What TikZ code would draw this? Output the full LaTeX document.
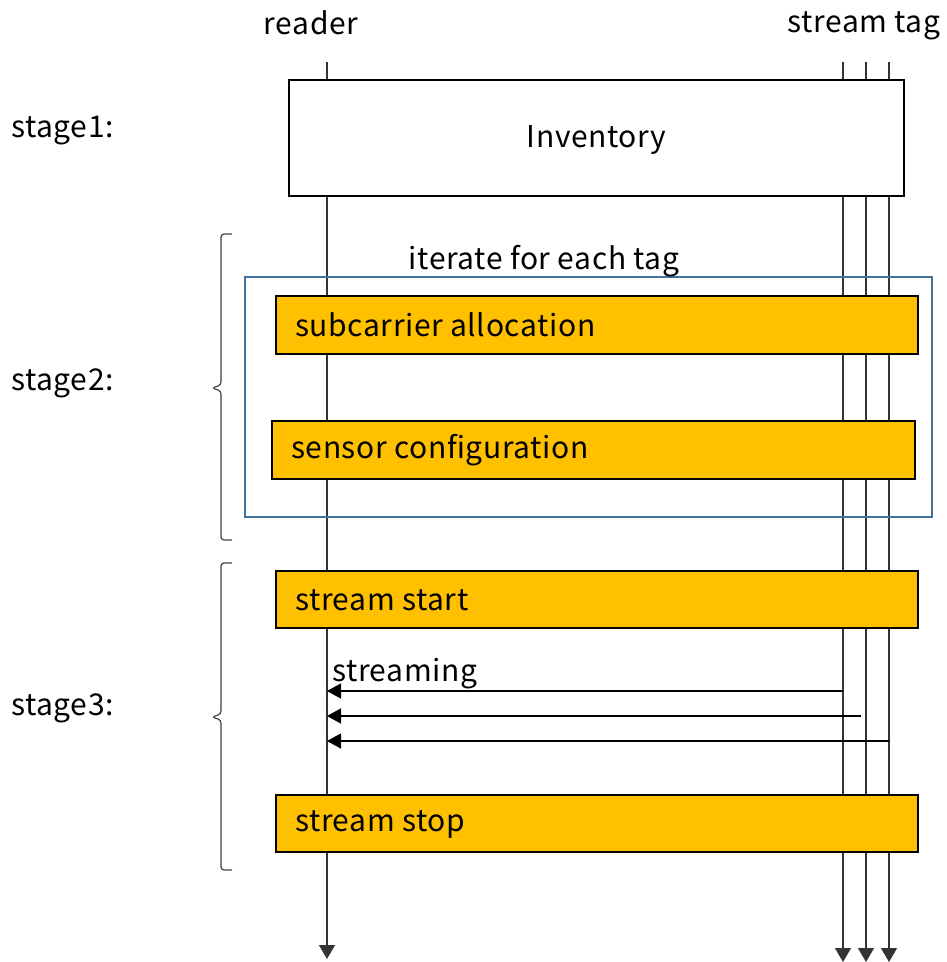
\documentclass[tikz,border=0pt]{standalone}
\usepackage{fontspec}
\setmainfont{Noto Sans CJK JP}[LetterSpace=2]
\usetikzlibrary{arrows.meta}
\definecolor{orng}{RGB}{255,192,0}
\definecolor{bluebox}{RGB}{65,113,156}
\tikzset{
  lbl/.style={inner sep=0pt, font=\fontsize{30}{34}\selectfont},
  orangebox/.style={draw=black, line width=1.5pt, fill=orng, inner sep=0pt},
  life/.style={line width=1.3pt, draw=black!80},
  tipend/.style={-{Triangle[width=16pt,length=14pt]}},
  msg/.style={line width=1.3pt, -{Triangle[width=15pt,length=14pt]}},
  brc/.style={line width=1.2pt, draw=black!75, rounded corners=3pt},
}
\begin{document}
\begin{tikzpicture}[x=1pt,y=-1pt]
\useasboundingbox (0,0) rectangle (947,962);
% lifelines
\coordinate (rtop) at (327,62);  \coordinate (rbot) at (327,959);
\coordinate (t1top) at (843,62); \coordinate (t1bot) at (843,962);
\coordinate (t2top) at (866,62); \coordinate (t2bot) at (866,962);
\coordinate (t3top) at (889,62); \coordinate (t3bot) at (889,962);
\draw[life,tipend] (rtop) -- (rbot);
\draw[life,tipend] (t1top) -- (t1bot);
\draw[life,tipend] (t2top) -- (t2bot);
\draw[life,tipend] (t3top) -- (t3bot);
% headers
\node[lbl] (reader) at (311,23) {reader};
\node[lbl] (streamtag) at (864,26) {stream tag};
% stage labels
\node[lbl,anchor=west] (s1) at (11,131) {stage1:};
\node[lbl,anchor=west] (s2) at (11,383) {stage2:};
\node[lbl,anchor=west] (s3) at (11,708) {stage3:};
% inventory
\node[draw=black, line width=1.5pt, fill=white, minimum width=615pt, minimum height=116pt, inner sep=0pt, font=\fontsize{30}{34}\selectfont] (inv) at (596.5,138) {};
\node[lbl] (invt) at (596.5,140) {Inventory};
% braces
\draw[brc] (232,234) -- (221,234) -- (221,385) -- (212,388) -- (221,391) -- (221,540) -- (232,540);
\draw[brc] (232,563) -- (221,563) -- (221,714) -- (212,717) -- (221,720) -- (221,870) -- (232,870);
% blue box
\node[draw=bluebox, line width=1.8pt, minimum width=687pt, minimum height=240pt, inner sep=0pt] (loop) at (588.5,397) {};
\node[lbl] (iter) at (544,261) {iterate for each tag};
% orange boxes
\node[orangebox, minimum width=642pt, minimum height=58pt] (sub) at (597,325) {};
\node[lbl,anchor=west] (subt) at (295,325) {subcarrier allocation};
\node[orangebox, minimum width=643pt, minimum height=58pt] (sens) at (593.5,450) {};
\node[lbl,anchor=west] (senst) at (291,450) {sensor configuration};
\node[orangebox, minimum width=642pt, minimum height=57pt] (start) at (597,599.5) {};
\node[lbl,anchor=west] (startt) at (295,600) {stream start};
\node[orangebox, minimum width=642pt, minimum height=57pt] (stop) at (597,823.5) {};
\node[lbl,anchor=west] (stopt) at (295,824) {stream stop};
% streaming
\coordinate (a1s) at (843,691); \coordinate (a1e) at (327,691);
\coordinate (a2s) at (861,716); \coordinate (a2e) at (327,716);
\coordinate (a3s) at (889,741); \coordinate (a3e) at (327,741);
\draw[msg] (a1s) -- (a1e);
\draw[msg] (a2s) -- (a2e);
\draw[msg] (a3s) -- (a3e);
\node[lbl,anchor=west] (strm) at (332,674) {streaming};
\end{tikzpicture}
\end{document}
